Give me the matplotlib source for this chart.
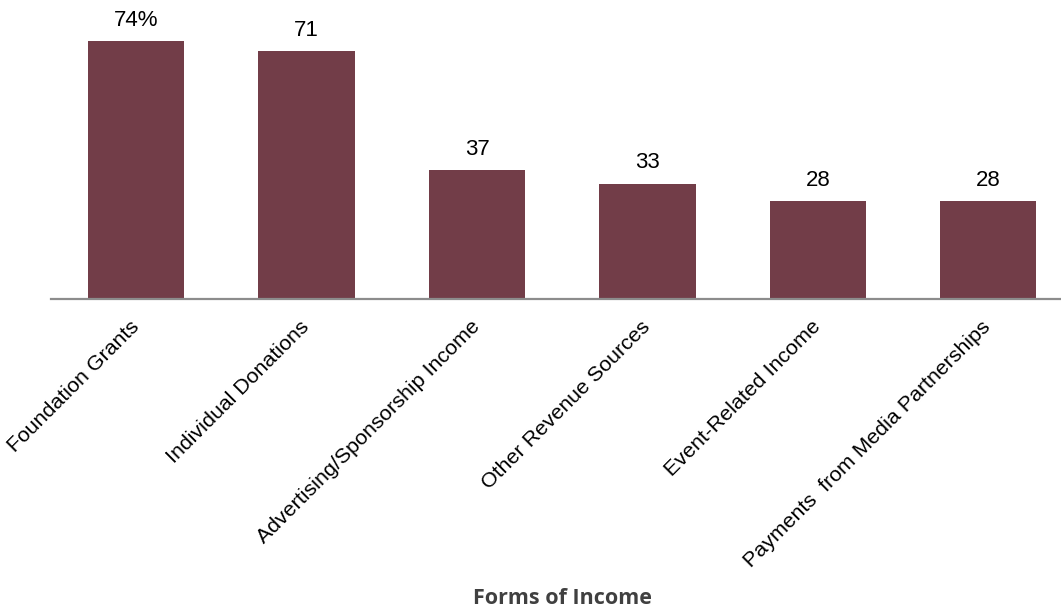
import matplotlib
matplotlib.use("Agg")
import matplotlib.pyplot as plt
from matplotlib.transforms import ScaledTranslation

categories = [
    "Foundation Grants",
    "Individual Donations",
    "Advertising/Sponsorship Income",
    "Other Revenue Sources",
    "Event-Related Income",
    "Payments  from Media Partnerships",
]
values = [74, 71, 37, 33, 28, 28]
value_labels = ["74%", "71", "37", "33", "28", "28"]

plt.rcParams["font.family"] = ["Liberation Sans", "DejaVu Sans"]

W, H = 1061, 612
step = 170.4
fig = plt.figure(figsize=(W / 100, H / 100), dpi=100)
ax = fig.add_axes([51 / W, 1 - 299 / H, 6 * step / W, 279 / H])

x = list(range(len(categories)))
bars = ax.bar(x, values, width=0.565, color="#723d48", zorder=2)

for rect, lab in zip(bars, value_labels):
    ax.annotate(lab, (rect.get_x() + rect.get_width() / 2, rect.get_height()),
                xytext=(0, 7.5), textcoords="offset points",
                ha="center", va="bottom", fontsize=16, color="#000000")

ax.set_xlim(-0.5, len(categories) - 0.5)
ax.set_ylim(0, 80)
ax.set_yticks([])
ax.set_xticks(x)
ax.set_xticklabels(categories, rotation=45, ha="right", va="top",
                   rotation_mode="anchor", fontsize=15.4)
ax.tick_params(axis="x", length=0, pad=13)

# nudge the slanted labels a little to the left
shift = ScaledTranslation(-7 / 100, 0, fig.dpi_scale_trans)
for lbl in ax.get_xticklabels():
    lbl.set_transform(lbl.get_transform() + shift)

for side in ("top", "right", "left"):
    ax.spines[side].set_visible(False)
ax.spines["bottom"].set_color("#8c8c8c")
ax.spines["bottom"].set_linewidth(1.6)

fig.text(562 / W, 1 - 598 / H, "Forms of Income",
         ha="center", va="center", fontsize=15.5, fontweight="bold",
         color="#404040", family=["Open Sans", "DejaVu Sans"])

fig.savefig("out.png", dpi=100)
